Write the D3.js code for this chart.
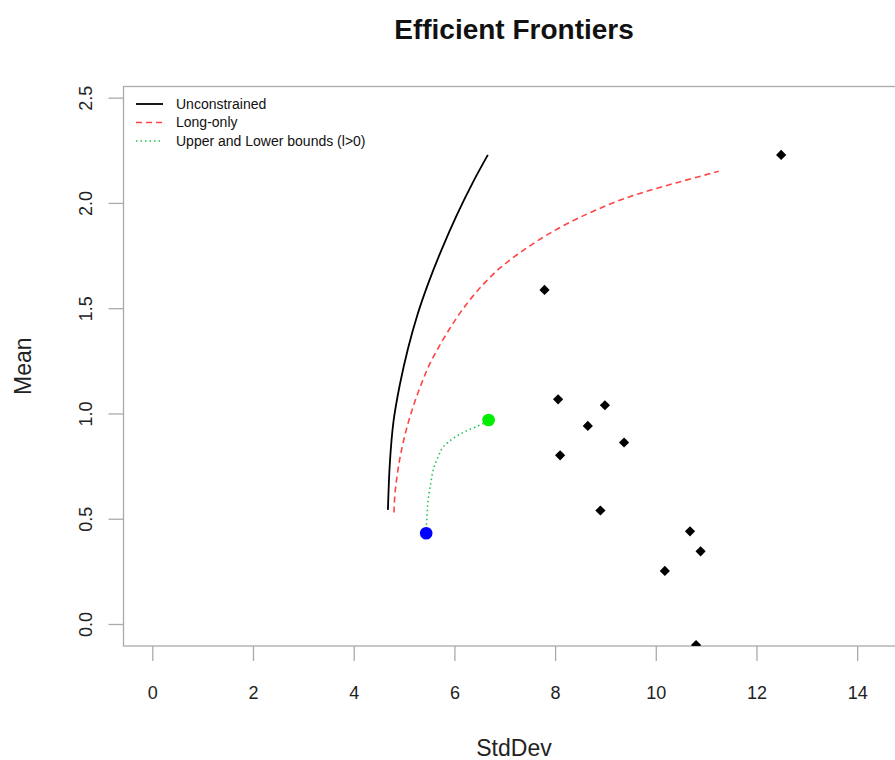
<!DOCTYPE html>
<html>
<head>
<meta charset="utf-8">
<script src="https://cdn.jsdelivr.net/npm/d3@7"></script>
<style>
  html, body { margin: 0; padding: 0; background: #ffffff; }
  svg { display: block; }
  text { font-family: "Liberation Sans", Arial, Helvetica, sans-serif; }
</style>
</head>
<body>
<svg id="chart" width="895" height="760"></svg>
<script>
// ---- data ----
const title = "Efficient Frontiers";
const xLabel = "StdDev";
const yLabel = "Mean";
const xTicks = [0, 2, 4, 6, 8, 10, 12, 14];
const yTicks = [0.0, 0.5, 1.0, 1.5, 2.0, 2.5];

// individual assets (StdDev, Mean)
const assetSd   = [12.49, 7.79, 8.06, 8.99, 8.65, 9.37, 8.10, 8.90, 10.68, 10.89, 10.18, 10.80];
const assetMean = [2.228, 1.587, 1.067, 1.039, 0.941, 0.862, 0.801, 0.539, 0.440, 0.345, 0.252, -0.100];

// unconstrained frontier
const uncSd   = [4.68, 4.72, 4.79, 4.915, 5.08, 5.265, 5.47, 5.73, 6.05, 6.375, 6.665];
const uncMean = [0.542, 0.771, 0.961, 1.135, 1.31, 1.468, 1.611, 1.769, 1.943, 2.101, 2.228];

// long-only frontier
const loSd   = [4.80, 4.82, 4.86, 4.92, 5.00, 5.10, 5.22, 5.36, 5.52, 5.70, 5.90, 6.12, 6.36, 6.62, 6.90, 7.25, 7.65, 8.15, 8.80, 9.55, 10.40, 11.25];
const loMean = [0.53, 0.62, 0.70, 0.79, 0.88, 0.97, 1.06, 1.15, 1.24, 1.32, 1.40, 1.48, 1.555, 1.625, 1.69, 1.755, 1.82, 1.89, 1.965, 2.035, 2.095, 2.15];

// upper and lower bounds frontier
const ulSd   = [5.44, 5.45, 5.48, 5.53, 5.58, 5.68, 5.78, 5.98, 6.21, 6.51, 6.68];
const ulMean = [0.45, 0.49, 0.589, 0.668, 0.732, 0.795, 0.842, 0.882, 0.914, 0.945, 0.966];

// special portfolios
const minVarPt = [5.44, 0.431];
const tangPt   = [6.68, 0.969];

const legendLabels = ["Unconstrained", "Long-only", "Upper and Lower bounds (l>0)"];
const legendColors = ["#000000", "#ff4444", "#22c455"];
const legendDash   = ["none", "6,4", "1.5,3"];

// ---- layout ----
const svg = d3.select("#chart");
const L = 123.5, R = 904.5, T = 86.5, B = 646;
const x = d3.scaleLinear().domain([-0.572, 14.94]).range([L, R]);
const y = d3.scaleLinear().domain([-0.1045, 2.553]).range([B, T]);

svg.append("rect").attr("width", 895).attr("height", 760).attr("fill", "#ffffff");

svg.append("defs").append("clipPath").attr("id", "plotclip")
  .append("rect").attr("x", L).attr("y", T).attr("width", R - L).attr("height", B - T);

const axisColor = "#aaaaaa";
const labelColor = "#222222";

// title
svg.append("text").attr("x", (L + R) / 2).attr("y", 39)
  .attr("text-anchor", "middle").attr("font-size", 28).attr("font-weight", "bold")
  .attr("fill", "#111").text(title);

// x axis
const gx = svg.append("g").attr("transform", `translate(0,${B})`)
  .call(d3.axisBottom(x).tickValues(xTicks).tickFormat(d3.format("d")).tickSize(15).tickSizeOuter(0).tickPadding(25));
gx.select(".domain").remove();
gx.selectAll(".tick line").attr("stroke", axisColor).attr("stroke-width", 1.3);
gx.selectAll(".tick text").attr("font-size", 18).attr("fill", labelColor)
  .attr("font-family", "'Liberation Sans', Arial, sans-serif");

// y axis
const gy = svg.append("g").attr("transform", `translate(${L},0)`)
  .call(d3.axisLeft(y).tickValues(yTicks).tickFormat(d3.format(".1f")).tickSize(15).tickSizeOuter(0));
gy.select(".domain").remove();
gy.selectAll(".tick line").attr("stroke", axisColor).attr("stroke-width", 1.3);
gy.selectAll(".tick text").attr("font-size", 18).attr("fill", labelColor)
  .attr("font-family", "'Liberation Sans', Arial, sans-serif")
  .attr("transform", "rotate(-90)").attr("text-anchor", "middle")
  .attr("x", 0).attr("y", -31.5).attr("dy", 0);

// axis titles
svg.append("text").attr("x", (L + R) / 2).attr("y", 756)
  .attr("text-anchor", "middle").attr("font-size", 23).attr("fill", labelColor).text(xLabel);
svg.append("text").attr("transform", `translate(31,${(T + B) / 2}) rotate(-90)`)
  .attr("text-anchor", "middle").attr("font-size", 23).attr("fill", labelColor).text(yLabel);

// plot box
svg.append("rect").attr("x", L).attr("y", T).attr("width", R - L).attr("height", B - T)
  .attr("fill", "none").attr("stroke", axisColor).attr("stroke-width", 1.3);

const plot = svg.append("g").attr("clip-path", "url(#plotclip)");

const line = d3.line().x(d => x(d[0])).y(d => y(d[1])).curve(d3.curveMonotoneY);
const smoothLine = d3.line().x(d => x(d[0])).y(d => y(d[1])).curve(d3.curveCatmullRom.alpha(0.5));

plot.append("path").datum(d3.zip(uncSd, uncMean)).attr("d", smoothLine)
  .attr("fill", "none").attr("stroke", legendColors[0]).attr("stroke-width", 1.8);
plot.append("path").datum(d3.zip(loSd, loMean)).attr("d", line)
  .attr("fill", "none").attr("stroke", legendColors[1]).attr("stroke-width", 1.6)
  .attr("stroke-dasharray", legendDash[1]);
plot.append("path").datum(d3.zip(ulSd, ulMean)).attr("d", line)
  .attr("fill", "none").attr("stroke", legendColors[2]).attr("stroke-width", 1.6)
  .attr("stroke-dasharray", legendDash[2]);

// assets (filled diamonds)
plot.selectAll(".asset").data(d3.zip(assetSd, assetMean)).join("path")
  .attr("class", "asset")
  .attr("d", d3.symbol().type(d3.symbolSquare).size(52))
  .attr("transform", d => `translate(${x(d[0])},${y(d[1])}) rotate(45)`)
  .attr("fill", "#000");

// special points
plot.append("circle").attr("cx", x(minVarPt[0])).attr("cy", y(minVarPt[1])).attr("r", 6.3).attr("fill", "#0000ff");
plot.append("circle").attr("cx", x(tangPt[0])).attr("cy", y(tangPt[1])).attr("r", 6.3).attr("fill", "#00ee00");

// legend (no box)
const lg = svg.append("g");
const rowsY = [104, 122.5, 141];
legendLabels.forEach((lab, i) => {
  lg.append("line").attr("x1", 136).attr("x2", 163).attr("y1", rowsY[i]).attr("y2", rowsY[i])
    .attr("stroke", legendColors[i]).attr("stroke-width", i === 0 ? 1.8 : 1.6)
    .attr("stroke-dasharray", legendDash[i]);
  lg.append("text").attr("x", 176).attr("y", rowsY[i]).attr("dy", "0.35em")
    .attr("font-size", 14).attr("fill", "#111").text(lab);
});
</script>
</body>
</html>
